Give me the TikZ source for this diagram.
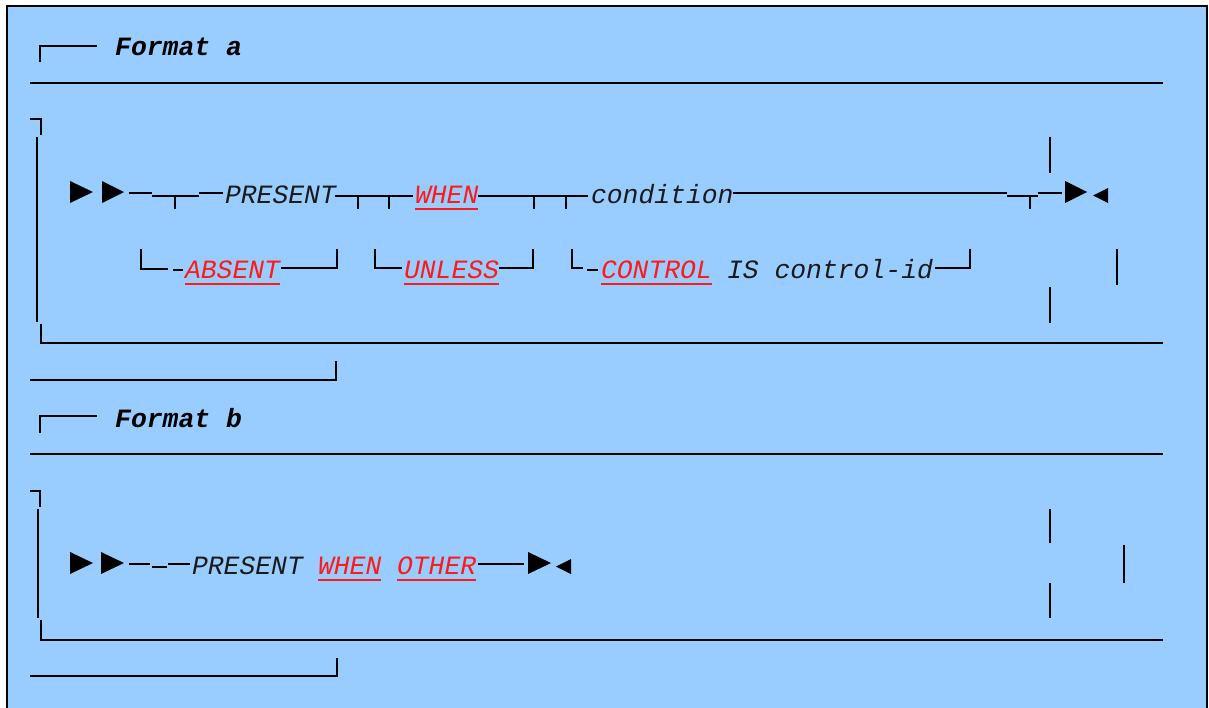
\documentclass[tikz,border=0pt]{standalone}
\usepackage{fontspec}
\newfontfamily\cmono{Liberation Mono}
\definecolor{bgblue}{HTML}{99CCFF}
\definecolor{kwred}{HTML}{FF1A1A}
\definecolor{txt}{HTML}{1A1A1A}
\tikzset{
  boxln/.style={line width=2.8pt, black},
  thinln/.style={line width=2pt, black},
  bar/.style={line width=2.9pt, black},
  word/.style={anchor=base west, inner sep=0pt, outer sep=0pt, text=txt,
    font=\cmono\itshape\fontsize{26.4}{28}\selectfont},
  kw/.style={word, text=kwred},
  title/.style={anchor=base west, inner sep=0pt, text=black,
    font=\cmono\bfseries\itshape\fontsize{26.4}{28}\selectfont},
  uline/.style={line width=1.6pt, kwred},
  tip/.style={fill=black, draw=none}
}
\newcommand{\ulword}[1]{\draw[uline] ([yshift=-6pt]#1.base west) -- ([yshift=-6pt]#1.base east);}
\begin{document}
\begin{tikzpicture}[x=1pt,y=-1pt]
\useasboundingbox (0,0) rectangle (1209,707);
\fill[white] (0,0) rectangle (1209,707);
\fill[bgblue] (7,6) rectangle (1207,712);
\draw[line width=2pt] (7,712) -- (7,6) -- (1207,6) -- (1207,712);

% ---------------- Format a ----------------
\draw[boxln] (40,62) -- (40,46) -- (97,46);
\node[title] (fmta) at (115,55) {Format a};
\draw[boxln] (30,83) -- (1163,83);
\draw[boxln] (30,119) -- (41,119) -- (41,135);
\draw[boxln] (37,137) -- (37,322);
\draw[boxln] (41,324) -- (41,343) -- (1163,343);
\draw[boxln] (30,380) -- (336,380) -- (336,361);

% main row
\fill[tip] (70,181) -- (93,192) -- (70,203) -- cycle;
\fill[tip] (102,181) -- (124,192) -- (102,203) -- cycle;
\draw[thinln] (129,193) -- (152,193);
\draw[boxln] (152,196) -- (199,196);
\draw[boxln] (175,196) -- (175,209);
\draw[thinln] (199,193) -- (223,193);
\node[word] (presa) at (225,203) {PRESENT};
\draw[boxln] (335,196) -- (413,196);
\draw[boxln] (358,196) -- (358,209);
\draw[boxln] (389,196) -- (389,209);
\node[kw] (whena) at (415,203) {WHEN};
\ulword{whena}
\draw[boxln] (478,196) -- (588,196);
\draw[boxln] (534,196) -- (534,209);
\draw[boxln] (566,196) -- (566,209);
\node[word] (cond) at (591,203) {condition};
\draw[boxln] (733,193) -- (1007,193);
\draw[boxln] (1007,196) -- (1038,196);
\draw[boxln] (1030,196) -- (1030,209);
\draw[boxln] (1038,193) -- (1062,193);
\fill[tip] (1065,181) -- (1087,192) -- (1065,203) -- cycle;
\fill[tip] (1108,188) -- (1093,195.5) -- (1108,203) -- cycle;
\draw[bar] (1050,137) -- (1050,173);
\draw[bar] (1050,287) -- (1050,323);
\draw[bar] (1117,249) -- (1117,285);

% lower row
\draw[boxln] (141,249) -- (141,269) -- (168,269);
\draw[thinln] (173,270) -- (183,270);
\node[kw] (absent) at (185,278) {ABSENT};
\ulword{absent}
\draw[boxln] (281,268) -- (337,268) -- (337,249);
\draw[boxln] (375,249) -- (375,268) -- (402,268);
\node[kw] (unless) at (404,278) {UNLESS};
\ulword{unless}
\draw[boxln] (499,268) -- (533,268) -- (533,249);
\draw[boxln] (572,249) -- (572,268) -- (583,268);
\draw[thinln] (587,270) -- (598,270);
\node[kw] (control) at (601,278) {CONTROL};
\ulword{control}
\node[word] (isid) at (727,278) {IS control-id};
\draw[boxln] (935,268) -- (970,268) -- (970,249);

% ---------------- Format b ----------------
\draw[boxln] (40,433) -- (40,416) -- (97,416);
\node[title] (fmtb) at (115,427) {Format b};
\draw[boxln] (30,454) -- (1163,454);
\draw[boxln] (30,491) -- (40,491) -- (40,507);
\draw[boxln] (38,509) -- (38,618);
\draw[boxln] (41,620) -- (41,640) -- (1163,640);
\draw[boxln] (30,676) -- (337,676) -- (337,658);

\fill[tip] (70,552) -- (93,563) -- (70,574) -- cycle;
\fill[tip] (101,552) -- (124,563) -- (101,574) -- cycle;
\draw[thinln] (129,564) -- (150,564);
\draw[thinln] (152,567) -- (167,567);
\draw[thinln] (168,564) -- (190,564);
\node[word] (presb) at (192,574) {PRESENT};
\node[kw] (whenb) at (318,574) {WHEN};
\ulword{whenb}
\node[kw] (other) at (397,574) {OTHER};
\ulword{other}
\draw[boxln] (478,564) -- (524,564);
\fill[tip] (528,552) -- (551,563) -- (528,574) -- cycle;
\fill[tip] (571,559) -- (556,566.5) -- (571,574) -- cycle;
\draw[bar] (1050,509) -- (1050,543);
\draw[bar] (1050,583) -- (1050,618);
\draw[bar] (1124,545) -- (1124,583);
\end{tikzpicture}
\end{document}
